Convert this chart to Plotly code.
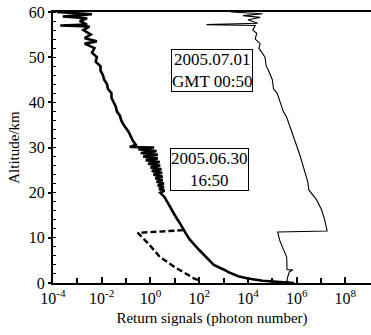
import plotly.graph_objects as go

# 2005.06.30 16:50 thick solid profile: altitude (km) and log10(photon number)
alt_a = [0.0, 0.2, 0.5, 1.0, 1.5, 2.4, 3.0, 4.0, 5.0, 6.2, 7.3, 8.4, 9.7, 11.0, 12.0, 13.3,
         15.0, 17.0, 19.0,
         20.0, 20.4, 20.8, 21.2, 21.6, 22.0, 22.4, 22.8, 23.2, 23.6, 24.0, 24.4, 24.8, 25.2,
         25.6, 26.0, 26.4, 26.8, 27.2, 27.6, 28.0, 28.4, 28.8, 29.2, 29.6, 30.0, 30.1, 30.6,
         31.5, 32.5, 33.5, 35.0, 36.0, 37.0, 38.0, 39.0, 40.0, 41.0, 42.0, 43.0, 44.0, 45.0,
         46.0, 47.0, 48.0, 49.0, 50.0, 51.0, 52.0, 53.0, 53.5, 54.2, 55.0, 56.0, 56.8, 57.0,
         57.2, 58.0, 58.6, 59.0, 59.5, 60.0]
log_sig_a = [5.9, 5.2, 4.6, 4.0, 3.6, 3.2, 3.0, 2.6, 2.4, 2.2, 2.0, 1.8, 1.6, 1.45, 1.35, 1.2,
             1.0, 0.78, 0.58,
             0.4, 0.58, 0.35, 0.55, 0.3, 0.55, 0.25, 0.5, 0.2, 0.5, 0.12, 0.48, 0.05, 0.45,
             0.0, 0.4, -0.1, 0.38, -0.2, 0.3, -0.3, 0.3, -0.4, 0.25, -0.5, 0.15, -0.85, -0.6,
             -0.72, -0.82, -0.9, -1.1, -1.2, -1.25, -1.38, -1.42, -1.5, -1.6, -1.6, -1.75, -1.78, -1.9,
             -1.95, -2.05, -2.05, -2.25, -2.2, -2.4, -2.3, -2.7, -2.2, -2.7, -2.45, -2.75, -2.5, -3.7,
             -2.6, -2.9, -2.6, -3.6, -2.4, -3.85]

# dashed profile (same night, low-altitude channel)
alt_b = [11.7, 11.5, 11.1, 8.5, 5.75, 3.5, 2.0, 0.9, 0.5]
log_sig_b = [1.35, 0.6, -0.52, -0.05, 0.39, 1.0, 1.45, 1.82, 2.05]

# 2005.07.01 GMT 00:50 thin solid profile
alt_c = [60.0, 59.6, 59.2, 58.8, 58.3, 57.5, 57.2, 57.0, 56.0, 55.3, 54.0, 53.0, 52.0, 50.0,
         48.0, 47.0, 45.0, 43.0, 42.0, 40.5, 38.0, 36.7, 34.0, 31.6, 28.0, 25.0, 22.5, 20.6,
         18.4, 16.2, 14.0, 12.0, 11.5, 11.3, 10.5, 9.5, 7.5, 5.75, 4.0, 3.0, 2.9, 2.5, 1.3, 0.5, 0.0]
log_sig_c = [3.3, 4.6, 3.8, 4.5, 4.0, 4.4, 2.3, 4.3, 4.2, 4.36, 4.3, 4.5, 4.45, 4.7,
             4.75, 4.85, 5.0, 5.05, 5.2, 5.3, 5.45, 5.59, 5.75, 5.92, 6.15, 6.33, 6.45, 6.5,
             6.82, 7.02, 7.15, 7.23, 7.25, 5.22, 5.25, 5.3, 5.45, 5.59, 5.6, 5.6, 5.84, 5.7, 5.63, 5.6, 5.7]

tick_vals = [1e-4, 1e-2, 1, 1e2, 1e4, 1e6, 1e8]
tick_text = ["10<sup>-4</sup>", "10<sup>-2</sup>", "10<sup>0</sup>", "10<sup>2</sup>",
             "10<sup>4</sup>", "10<sup>6</sup>", "10<sup>8</sup>"]
minor_vals = [1e-3, 1e-1, 10, 1e3, 1e5, 1e7]
y_ticks = [0, 10, 20, 30, 40, 50, 60]

label_a = "2005.06.30<br>16:50"
label_c = "2005.07.01<br>GMT 00:50"

sig_a = [10 ** v for v in log_sig_a]
sig_b = [10 ** v for v in log_sig_b]
sig_c = [10 ** v for v in log_sig_c]

fig = go.Figure()
fig.add_trace(go.Scatter(x=sig_a, y=alt_a, mode="lines",
                         line=dict(color="black", width=2.6), showlegend=False))
fig.add_trace(go.Scatter(x=sig_b, y=alt_b, mode="lines",
                         line=dict(color="black", width=2.4, dash="6px,3px"), showlegend=False))
fig.add_trace(go.Scatter(x=sig_c, y=alt_c, mode="lines",
                         line=dict(color="black", width=1.1), showlegend=False))

serif = "Liberation Serif"

fig.update_layout(
    width=371, height=335,
    margin=dict(l=53, r=0, t=12, b=52),
    plot_bgcolor="white", paper_bgcolor="white",
    font=dict(family=serif, size=15, color="black"),
    xaxis=dict(type="log", range=[-4, 9.05], tickvals=tick_vals, ticktext=tick_text,
               ticks="inside", ticklen=6, tickwidth=1.5, tickcolor="black",
               showline=True, linecolor="black", linewidth=1.8, mirror=True,
               showgrid=False, zeroline=False,
               minor=dict(tickvals=minor_vals, ticks="inside",
                          ticklen=5, tickwidth=1.5, tickcolor="black"),
               tickfont=dict(size=16, family=serif),
               title=dict(text="Return signals (photon number)", standoff=6,
                          font=dict(size=15, family=serif))),
    yaxis=dict(range=[0, 60], tickvals=y_ticks, ticks="outside", ticklen=3,
               tickwidth=1.5, tickcolor="black",
               showline=True, linecolor="black", linewidth=2.2, mirror=False,
               showgrid=False, zeroline=False,
               minor=dict(dtick=2, ticks="inside", ticklen=3, tickwidth=1, tickcolor="black"),
               tickfont=dict(size=16, family=serif),
               title=dict(text="Altitude/km", standoff=5,
                          font=dict(size=15, family=serif))),
    annotations=[
        dict(x=2.52, y=47.1, xref="x", yref="y", text=label_c, showarrow=False,
             font=dict(size=17, family=serif, color="black"),
             bordercolor="black", borderwidth=1, borderpad=0, bgcolor="white", align="center"),
        dict(x=2.43, y=25.2, xref="x", yref="y", text=label_a, showarrow=False,
             font=dict(size=17, family=serif, color="black"),
             bordercolor="black", borderwidth=1, borderpad=0, bgcolor="white", align="center"),
    ],
)

fig.write_html("out.html")
